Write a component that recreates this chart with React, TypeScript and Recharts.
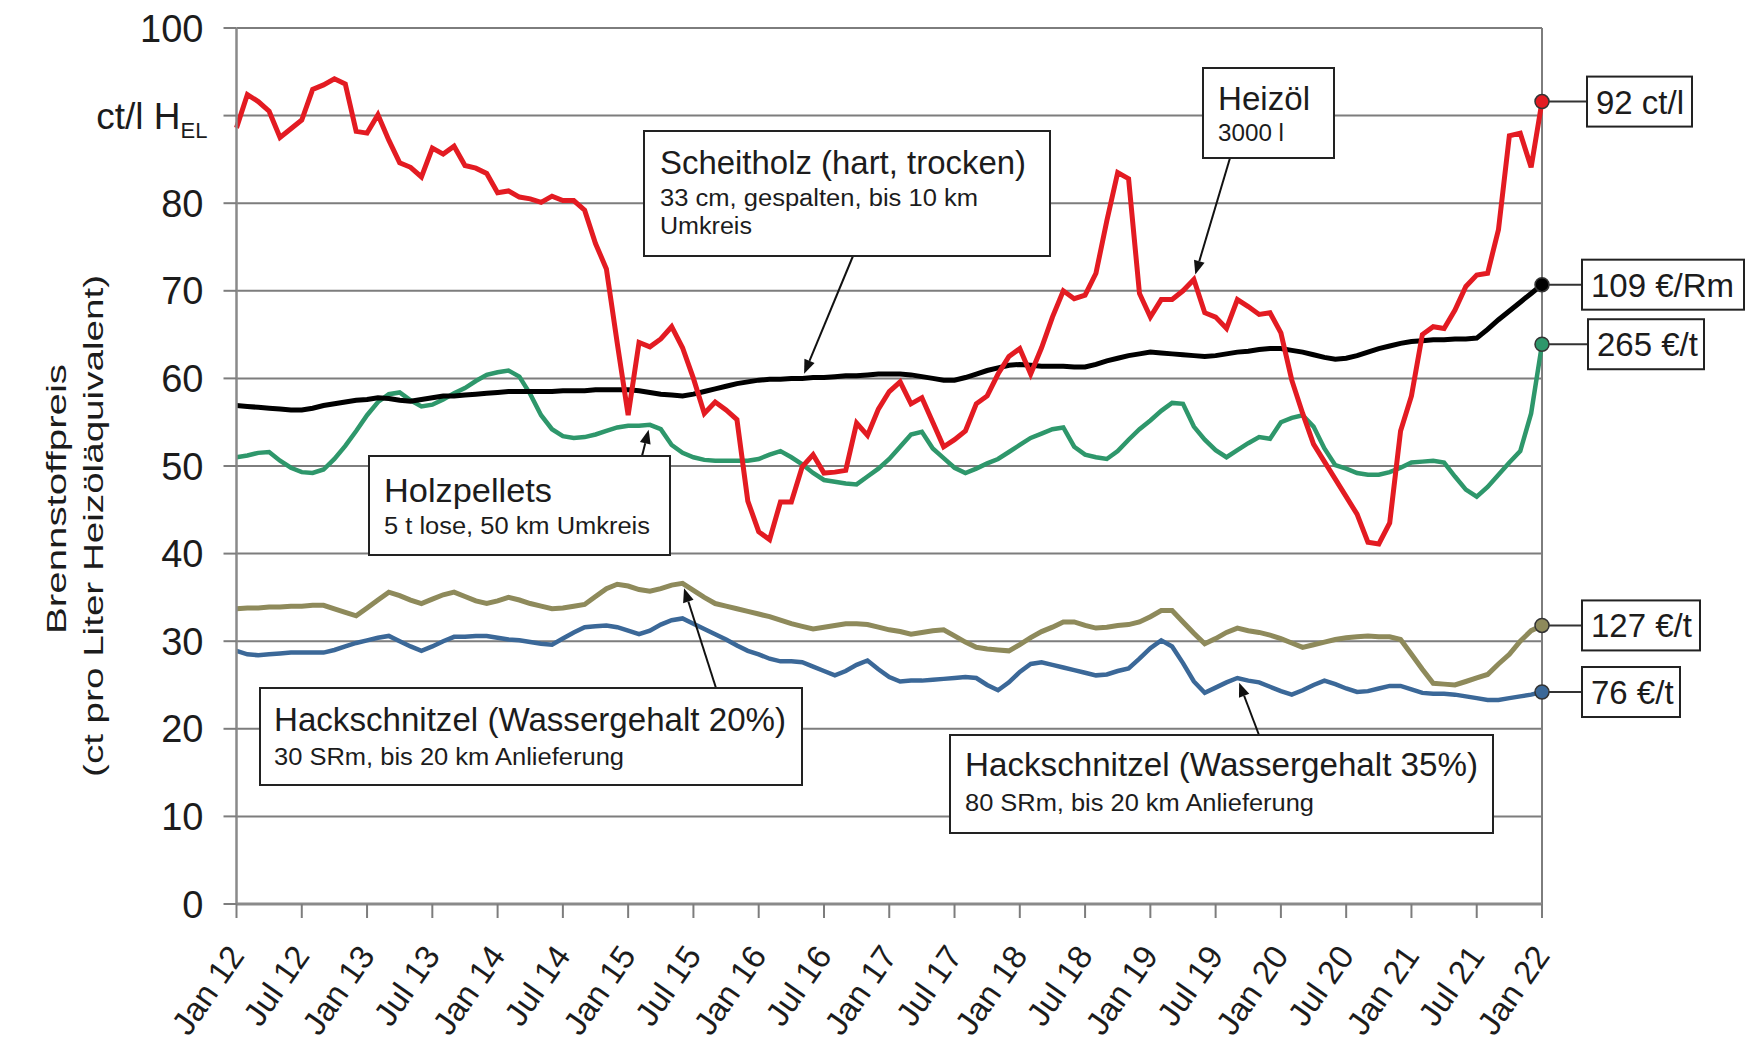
import React from "react";
import { LineChart, Line, XAxis, YAxis, CartesianGrid, ReferenceLine } from "recharts";

// tick labels, every 6 months
const tickLabels = [
  "Jan 12", "Jul 12", "Jan 13", "Jul 13", "Jan 14", "Jul 14", "Jan 15", "Jul 15", "Jan 16", "Jul 16",
  "Jan 17", "Jul 17", "Jan 18", "Jul 18", "Jan 19", "Jul 19", "Jan 20", "Jul 20", "Jan 21", "Jul 21", "Jan 22",
];
const xTicks = tickLabels.map((_, i) => i * 6);
const yTicks = [0, 10, 20, 30, 40, 50, 60, 70, 80, 90, 100];

// monthly values Jan 12 .. Jan 22, ct per litre heating-oil equivalent
const heizoel = [
  88.6, 92.4, 91.6, 90.5, 87.5, 88.5, 89.5, 93.0, 93.5, 94.2,
  93.6, 88.2, 88.0, 90.1, 87.2, 84.6, 84.1, 83.0, 86.3, 85.6,
  86.5, 84.3, 84.0, 83.4, 81.2, 81.4, 80.7, 80.5, 80.1, 80.8,
  80.3, 80.3, 79.2, 75.4, 72.5, 64.0, 55.8, 64.1, 63.6, 64.5,
  65.9, 63.5, 60.0, 56.0, 57.3, 56.4, 55.3, 46.0, 42.5, 41.6,
  45.9, 45.9, 49.9, 51.3, 49.2, 49.3, 49.5, 54.9, 53.5, 56.5,
  58.5, 59.6, 57.1, 57.8, 55.0, 52.2, 53.0, 54.0, 57.1, 58.0,
  60.5, 62.5, 63.4, 60.5, 63.5, 67.0, 70.0, 69.1, 69.5, 72.0,
  78.0, 83.5, 82.8, 69.7, 67.0, 69.0, 69.0, 70.0, 71.3, 67.5,
  67.0, 65.7, 69.0, 68.2, 67.3, 67.5, 65.2, 59.8, 56.0, 52.5,
  50.5, 48.5, 46.5, 44.5, 41.3, 41.1, 43.5, 54.0, 58.0, 65.0,
  65.9, 65.7, 67.8, 70.5, 71.8, 72.0, 77.0, 87.7, 88.0, 84.1,
  91.6,
];
const scheitholz = [
  56.9, 56.8, 56.7, 56.6, 56.5, 56.4, 56.4, 56.6, 56.9, 57.1,
  57.3, 57.5, 57.6, 57.8, 57.7, 57.5, 57.4, 57.6, 57.8, 58.0,
  58.0, 58.1, 58.2, 58.3, 58.4, 58.5, 58.5, 58.5, 58.5, 58.5,
  58.6, 58.6, 58.6, 58.7, 58.7, 58.7, 58.7, 58.6, 58.4, 58.2,
  58.1, 58.0, 58.2, 58.5, 58.8, 59.1, 59.4, 59.6, 59.8, 59.9,
  59.9, 60.0, 60.0, 60.1, 60.1, 60.2, 60.3, 60.3, 60.4, 60.5,
  60.5, 60.5, 60.4, 60.2, 60.0, 59.8, 59.8, 60.1, 60.5, 60.9,
  61.2, 61.5, 61.6, 61.5, 61.4, 61.4, 61.4, 61.3, 61.3, 61.6,
  62.0, 62.3, 62.6, 62.8, 63.0, 62.9, 62.8, 62.7, 62.6, 62.5,
  62.6, 62.8, 63.0, 63.1, 63.3, 63.4, 63.4, 63.2, 63.0, 62.7,
  62.4, 62.2, 62.3, 62.6, 63.0, 63.4, 63.7, 64.0, 64.2, 64.3,
  64.4, 64.4, 64.5, 64.5, 64.6, 65.6, 66.7, 67.7, 68.7, 69.7,
  70.7,
];
const pellets = [
  51.0, 51.2, 51.5, 51.6, 50.6, 49.8, 49.3, 49.2, 49.6, 50.8,
  52.3, 54.0, 55.8, 57.3, 58.2, 58.4, 57.5, 56.8, 57.0, 57.6,
  58.3, 58.9, 59.7, 60.4, 60.7, 60.9, 60.2, 58.2, 55.8, 54.2,
  53.4, 53.2, 53.3, 53.6, 54.0, 54.4, 54.6, 54.6, 54.7, 54.2,
  52.4, 51.5, 51.0, 50.7, 50.6, 50.6, 50.6, 50.6, 50.8, 51.3,
  51.7, 51.0, 50.2, 49.2, 48.4, 48.2, 48.0, 47.9, 48.8, 49.7,
  50.8, 52.2, 53.6, 53.9, 52.0, 50.9, 49.8, 49.2, 49.7, 50.3,
  50.8, 51.6, 52.4, 53.2, 53.7, 54.2, 54.4, 52.2, 51.3, 51.0,
  50.8, 51.7, 53.0, 54.2, 55.2, 56.3, 57.2, 57.1, 54.5, 53.0,
  51.8, 51.0, 51.8, 52.6, 53.3, 53.1, 55.0, 55.5, 55.8, 54.5,
  52.0, 50.1, 49.7, 49.2, 49.0, 49.0, 49.3, 49.8, 50.4, 50.5,
  50.6, 50.4, 48.8, 47.3, 46.5, 47.6, 49.0, 50.4, 51.7, 56.0,
  63.9,
];
const hack20 = [
  33.7, 33.8, 33.8, 33.9, 33.9, 34.0, 34.0, 34.1, 34.1, 33.7,
  33.3, 32.9, 33.8, 34.7, 35.6, 35.2, 34.7, 34.3, 34.8, 35.3,
  35.6, 35.1, 34.6, 34.3, 34.6, 35.0, 34.7, 34.3, 34.0, 33.7,
  33.8, 34.0, 34.2, 35.1, 36.0, 36.5, 36.3, 35.9, 35.7, 36.0,
  36.4, 36.6, 35.8, 35.0, 34.3, 34.0, 33.7, 33.4, 33.1, 32.8,
  32.4, 32.0, 31.7, 31.4, 31.6, 31.8, 32.0, 32.0, 31.9, 31.6,
  31.3, 31.1, 30.8, 31.0, 31.2, 31.3, 30.6, 29.9, 29.3, 29.1,
  29.0, 28.9, 29.6, 30.4, 31.1, 31.6, 32.2, 32.2, 31.8, 31.5,
  31.6, 31.8, 31.9, 32.2, 32.8, 33.5, 33.5, 32.2, 30.9, 29.7,
  30.3, 31.0, 31.5, 31.2, 31.0, 30.7, 30.3, 29.8, 29.3, 29.6,
  29.9, 30.2, 30.4, 30.5, 30.6, 30.5, 30.5, 30.2, 28.5, 26.8,
  25.2, 25.1, 25.0, 25.4, 25.8, 26.2, 27.4, 28.5, 30.0, 31.2,
  31.8,
];
const hack35 = [
  28.9, 28.5, 28.4, 28.5, 28.6, 28.7, 28.7, 28.7, 28.7, 29.0,
  29.4, 29.8, 30.1, 30.4, 30.6, 30.0, 29.4, 28.9, 29.4, 30.0,
  30.5, 30.5, 30.6, 30.6, 30.4, 30.2, 30.1, 29.9, 29.7, 29.6,
  30.3, 31.0, 31.6, 31.7, 31.8, 31.6, 31.2, 30.8, 31.2, 31.9,
  32.4, 32.6, 32.0, 31.4, 30.8, 30.2, 29.5, 28.9, 28.5, 28.0,
  27.7, 27.7, 27.6, 27.1, 26.6, 26.1, 26.6, 27.3, 27.8, 26.8,
  25.9, 25.4, 25.5, 25.5, 25.6, 25.7, 25.8, 25.9, 25.8, 25.0,
  24.4, 25.3, 26.5, 27.4, 27.6, 27.3, 27.0, 26.7, 26.4, 26.1,
  26.2, 26.6, 26.9, 28.0, 29.2, 30.1, 29.4, 27.5, 25.4, 24.1,
  24.7, 25.3, 25.8, 25.5, 25.3, 24.8, 24.3, 23.9, 24.4, 25.0,
  25.5, 25.1, 24.6, 24.2, 24.3, 24.6, 24.9, 24.9, 24.5, 24.1,
  24.0, 24.0, 23.9, 23.7, 23.5, 23.3, 23.3, 23.5, 23.7, 23.9,
  24.2,
];

// end-of-series price labels (original units)
const endLabels = ["92 ct/l", "109 €/Rm", "265 €/t", "127 €/t", "76 €/t"];

const LAST = heizoel.length - 1;
const data = heizoel.map((v, i) => ({
  m: i,
  heizoel: v,
  scheitholz: scheitholz[i],
  pellets: pellets[i],
  hack20: hack20[i],
  hack35: hack35[i],
}));

const W = 1747;
const H = 1040;
const PLOT_LEFT = 236.5;
const PLOT_RIGHT = 1542;
const PLOT_TOP = 28;
const PLOT_BOTTOM = 904;
const FONT = "'Liberation Sans', Arial, Helvetica, sans-serif";
const TXT = "#1c1c1c";

const C = {
  heizoel: "#e31b22",
  scheitholz: "#000000",
  pellets: "#2e976b",
  hack20: "#8e8a5b",
  hack35: "#3b6898",
};

// same mapping as the chart's plot area, used for the callouts
const px = (m: number) => PLOT_LEFT + (m / LAST) * (PLOT_RIGHT - PLOT_LEFT);
const py = (v: number) => PLOT_TOP + ((100 - v) / 100) * (PLOT_BOTTOM - PLOT_TOP);

const endDot = (color: string) => (props: any) => {
  const { cx, cy, index } = props;
  if (index !== LAST) return <g key={`d${index}`} />;
  return <circle key={`d${index}`} cx={cx} cy={cy} r={7} fill={color} stroke="#333" strokeWidth={1.5} />;
};

const XTick = (props: any) => {
  const { x, y, payload } = props;
  const label = tickLabels[Math.round(payload.value / 6)];
  const ax = x + 9;
  const ay = y + 36;
  return (
    <text x={ax} y={ay} transform={`rotate(-55 ${ax} ${ay})`} textAnchor="end" fontSize={33} fill={TXT} fontFamily={FONT}>
      {label}
    </text>
  );
};

const YTick = (props: any) => {
  const { x, y, payload } = props;
  const tx = x - 18;
  if (payload.value === 90) {
    return (
      <text x={tx + 4} y={y + 13} textAnchor="end" fontSize={37} fill={TXT} fontFamily={FONT}>
        ct/l H
        <tspan fontSize={22} dy={9}>EL</tspan>
      </text>
    );
  }
  return (
    <text x={tx} y={y + 13.5} textAnchor="end" fontSize={38} fill={TXT} fontFamily={FONT}>
      {payload.value}
    </text>
  );
};

type Note = {
  title: string;
  titleW: number;
  subs: string[];
  subW: number[];
  box: [number, number, number, number];
  textX: number;
  baselines: number[];
  from: [number, number];
  series: number[];
  at: number;
};

const notes: Note[] = [
  {
    title: "Heizöl", titleW: 92, subs: ["3000 l"], subW: [66],
    box: [1203, 68, 131, 90], textX: 1218, baselines: [110, 141],
    from: [1230, 158], series: heizoel, at: 88,
  },
  {
    title: "Scheitholz (hart, trocken)", titleW: 366,
    subs: ["33 cm, gespalten, bis 10 km", "Umkreis"], subW: [318, 92],
    box: [644, 131, 406, 125], textX: 660, baselines: [174, 206, 234],
    from: [853, 256], series: scheitholz, at: 52,
  },
  {
    title: "Holzpellets", titleW: 168, subs: ["5 t lose, 50 km Umkreis"], subW: [266],
    box: [369, 456, 301, 99], textX: 384, baselines: [502, 534],
    from: [642, 456], series: pellets, at: 38,
  },
  {
    title: "Hackschnitzel (Wassergehalt 20%)", titleW: 512,
    subs: ["30 SRm, bis 20 km Anlieferung"], subW: [350],
    box: [260, 688, 542, 97], textX: 274, baselines: [731, 765],
    from: [716, 688], series: hack20, at: 41,
  },
  {
    title: "Hackschnitzel (Wassergehalt 35%)", titleW: 513,
    subs: ["80 SRm, bis 20 km Anlieferung"], subW: [349],
    box: [950, 735, 543, 98], textX: 965, baselines: [776, 811],
    from: [1259, 735], series: hack35, at: 92,
  },
];

const Arrow = ({ from, to }: { from: [number, number]; to: [number, number] }) => {
  const dx = to[0] - from[0];
  const dy = to[1] - from[1];
  const len = Math.sqrt(dx * dx + dy * dy);
  const ux = dx / len;
  const uy = dy / len;
  const tip: [number, number] = [to[0] - ux * 5, to[1] - uy * 5];
  const hl = 14;
  const hw = 5.5;
  const bx = tip[0] - ux * hl;
  const by = tip[1] - uy * hl;
  const pts = `${tip[0]},${tip[1]} ${bx - uy * hw},${by + ux * hw} ${bx + uy * hw},${by - ux * hw}`;
  return (
    <g>
      <line x1={from[0]} y1={from[1]} x2={bx} y2={by} stroke="#111" strokeWidth={2} />
      <polygon points={pts} fill="#111" />
    </g>
  );
};

const endBoxes = [
  { series: heizoel, left: 1587, width: 105 },
  { series: scheitholz, left: 1582, width: 162 },
  { series: pellets, left: 1588, width: 116 },
  { series: hack20, left: 1582, width: 118 },
  { series: hack35, left: 1582, width: 98 },
];

const Overlay = () => (
  <svg width={W} height={H} style={{ position: "absolute", left: 0, top: 0, pointerEvents: "none" }}>
    {/* y axis title */}
    <text
      x={0} y={0} transform={`translate(57 499) rotate(-90)`} textAnchor="middle" dominantBaseline="central"
      fontSize={27} fill={TXT} fontFamily={FONT} textLength={270} lengthAdjust="spacingAndGlyphs"
    >
      Brennstoffpreis
    </text>
    <text
      x={0} y={0} transform={`translate(94 526) rotate(-90)`} textAnchor="middle" dominantBaseline="central"
      fontSize={27} fill={TXT} fontFamily={FONT} textLength={502} lengthAdjust="spacingAndGlyphs"
    >
      (ct pro Liter Heizöläquivalent)
    </text>

    {notes.map((n, i) => {
      const tip: [number, number] = [px(n.at), py(n.series[n.at])];
      const [bx, by, bw, bh] = n.box;
      return (
        <g key={i}>
          <Arrow from={n.from} to={tip} />
          <rect x={bx} y={by} width={bw} height={bh} fill="#fff" stroke="#222" strokeWidth={2} />
          <text x={n.textX} y={n.baselines[0]} fontSize={33} fill={TXT} fontFamily={FONT} textLength={n.titleW} lengthAdjust="spacingAndGlyphs">
            {n.title}
          </text>
          {n.subs.map((s, j) => (
            <text key={j} x={n.textX} y={n.baselines[j + 1]} fontSize={23} fill={TXT} fontFamily={FONT} textLength={n.subW[j]} lengthAdjust="spacingAndGlyphs">
              {s}
            </text>
          ))}
        </g>
      );
    })}

    {endBoxes.map((b, i) => {
      const y = py(b.series[LAST]);
      return (
        <g key={i}>
          <line x1={PLOT_RIGHT + 7} y1={y} x2={b.left} y2={y} stroke="#333" strokeWidth={2} />
          <rect x={b.left} y={y - 25} width={b.width} height={50} fill="#fff" stroke="#222" strokeWidth={2} />
          <text x={b.left + 9} y={y + 12} fontSize={33} fill={TXT} fontFamily={FONT}>
            {endLabels[i]}
          </text>
        </g>
      );
    })}
  </svg>
);

export default function App() {
  return (
    <div style={{ position: "relative", width: W, height: H, background: "#fff", fontFamily: FONT }}>
      <style>{"body{margin:0;background:#fff}"}</style>
      <LineChart
        width={W}
        height={H}
        data={data}
        margin={{ top: PLOT_TOP, right: W - PLOT_RIGHT, bottom: 0, left: 0 }}
      >
        <CartesianGrid vertical={false} stroke="#7d7d7d" strokeWidth={2} />
        <XAxis
          dataKey="m"
          type="number"
          domain={[0, LAST]}
          ticks={xTicks}
          interval={0}
          height={H - PLOT_BOTTOM}
          tickSize={14}
          tickLine={{ stroke: "#7d7d7d", strokeWidth: 2 }}
          axisLine={{ stroke: "#8a8a8a", strokeWidth: 3 }}
          tick={<XTick />}
        />
        <YAxis
          type="number"
          domain={[0, 100]}
          ticks={yTicks}
          interval={0}
          width={PLOT_LEFT}
          tickSize={13}
          tickLine={{ stroke: "#7d7d7d", strokeWidth: 2 }}
          axisLine={{ stroke: "#8a8a8a", strokeWidth: 2.5 }}
          tick={<YTick />}
        />
        <ReferenceLine x={LAST} stroke="#7d7d7d" strokeWidth={2} />
        <Line type="linear" dataKey="hack20" stroke={C.hack20} strokeWidth={5} dot={endDot(C.hack20)} activeDot={false} isAnimationActive={false} />
        <Line type="linear" dataKey="hack35" stroke={C.hack35} strokeWidth={4.5} dot={endDot(C.hack35)} activeDot={false} isAnimationActive={false} />
        <Line type="linear" dataKey="pellets" stroke={C.pellets} strokeWidth={4.5} dot={endDot(C.pellets)} activeDot={false} isAnimationActive={false} />
        <Line type="linear" dataKey="scheitholz" stroke={C.scheitholz} strokeWidth={5} dot={endDot(C.scheitholz)} activeDot={false} isAnimationActive={false} />
        <Line type="linear" dataKey="heizoel" stroke={C.heizoel} strokeWidth={5} dot={endDot(C.heizoel)} activeDot={false} isAnimationActive={false} />
      </LineChart>
      <Overlay />
    </div>
  );
}
